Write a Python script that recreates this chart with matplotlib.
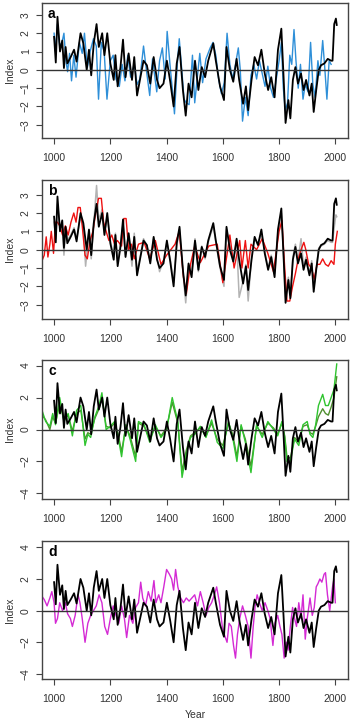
import matplotlib
matplotlib.use("Agg")
import matplotlib.pyplot as plt
import numpy as np

plt.rcParams['font.family'] = ['Liberation Sans', 'DejaVu Sans']

# ---- black reference series (shown in every panel) ----
blk_years = [1000,1006,1012,1021,1029,1035,1041,1047,1059,1071,1080,1094,1104,1116,1124,1132,
             1141,1151,1159,1171,1179,1189,1200,1212,1218,1226,1236,1245,1254,1265,1277,1285,
             1295,1307,1318,1330,1342,1354,1366,1375,1389,1401,1413,1425,1436,1446,1458,1468,
             1478,1489,1501,1513,1525,1537,1548,1566,1575,1590,1604,1613,1625,1637,1649,1658,
             1672,1682,1690,1702,1713,1725,1737,1749,1761,1772,1784,1796,1808,1816,1823,1833,
             1840,1849,1858,1867,1878,1887,1896,1908,1916,1923,1932,1941,1949,1961,1973,1985,
             1990,1996,2002,2005]
blk_vals = [1.8,0.4,2.9,1.0,1.6,0.1,1.25,0.35,0.7,1.1,0.45,2.0,1.45,0.0,1.1,-0.3,
            1.45,2.5,1.25,2.0,0.8,2.0,0.35,-0.55,0.8,-0.9,0.15,1.65,-0.4,0.9,-0.55,0.7,
            -1.4,-0.4,0.5,0.25,-0.75,0.7,-0.55,-1.0,-0.75,0.5,-0.65,-2.0,0.35,1.25,-1.1,-2.5,
            -0.75,-1.5,0.5,-1.1,0.15,-0.4,0.5,1.45,0.5,-0.9,-1.65,1.25,0.0,-0.65,0.6,-0.55,
            -1.85,-0.9,-2.2,-0.55,0.7,0.25,1.1,-0.2,-1.1,-0.4,-1.5,1.1,2.25,-0.4,-2.9,-1.65,
            -2.65,-0.55,0.15,-0.75,-0.2,-1.1,-0.55,-1.4,-0.75,-2.3,-1.1,0.0,0.25,0.35,0.6,0.5,
            0.5,2.5,2.8,2.45]

# ---- panel a: blue ----
blue_years = [1000,1005,1012,1020,1028,1035,1042,1048,1055,1062,1070,1078,1090,1100,1108,1118,
              1128,1140,1150,1158,1168,1178,1188,1200,1210,1220,1232,1242,1252,1262,1272,1285,
              1295,1305,1318,1328,1340,1350,1365,1375,1385,1395,1402,1412,1420,1428,1438,1445,
              1455,1462,1470,1480,1492,1500,1510,1518,1528,1540,1555,1565,1575,1585,1595,1605,
              1615,1625,1635,1645,1655,1662,1670,1680,1690,1700,1710,1720,1730,1740,1750,1760,
              1770,1780,1790,1800,1808,1815,1822,1830,1838,1845,1853,1860,1868,1876,1885,1893,
              1903,1912,1920,1928,1938,1945,1955,1962,1970,1978,1985]
blue_vals = [2.0,1.0,2.5,1.3,1.5,2.0,0.5,-0.1,0.9,-0.6,0.8,-0.4,1.5,0.9,2.0,0.1,
             1.0,1.7,1.3,-1.6,1.5,1.0,-1.6,0.5,0.8,-0.5,-0.9,0.3,-0.6,0.8,-0.4,0.3,
             -0.8,-0.5,1.3,0.0,-1.4,0.6,-1.2,0.5,1.2,-0.5,2.1,0.3,-1.0,-2.4,0.3,1.7,
             -0.2,-1.6,-1.8,-1.9,0.8,-1.8,-0.3,0.9,-0.7,0.6,1.2,1.5,0.8,-0.5,-1.3,-0.7,
             2.0,0.3,-0.5,0.3,1.2,0.0,-2.8,-1.5,-2.5,-0.3,0.3,-0.5,0.5,-0.2,-0.9,0.2,
             -1.0,-1.5,-0.5,0.5,1.5,-1.0,-2.2,-1.8,0.8,0.3,2.2,0.5,-1.0,0.3,-1.6,-0.8,
             -1.2,1.5,-0.8,-1.5,0.5,-0.3,1.6,0.2,-1.6,0.5,0.3]

# ---- panel b: red and grey ----
red_years = [957,965,972,978,985,990,998,1005,1012,1020,1030,1040,1050,1060,1070,1078,1085,1093,
             1100,1110,1118,1128,1138,1148,1158,1168,1176,1185,1195,1205,1215,1225,1240,1248,1256,
             1265,1275,1285,1300,1320,1340,1360,1380,1400,1430,1445,1460,1470,1485,1500,1520,1550,
             1580,1600,1625,1640,1660,1668,1680,1690,1700,1720,1740,1760,1780,1800,1810,1820,1828,
             1838,1848,1858,1868,1878,1888,1895,1905,1915,1925,1935,1945,1955,1965,1975,1985,1995,
             2000,2007]
red_vals = [-0.6,-0.3,0.7,-0.4,0.3,1.0,-0.2,1.5,1.5,1.3,0.8,1.3,0.8,1.5,2.0,1.5,2.3,2.3,
            1.3,-0.3,-0.5,0.5,1.0,2.0,2.8,2.8,1.5,1.0,0.5,0.8,0.3,0.5,0.2,1.7,1.7,
            0.0,0.3,-0.5,0.3,0.4,-0.5,0.5,-0.8,-0.3,0.3,1.0,-1.5,-2.4,-0.8,0.2,-0.7,0.2,
            0.3,-1.8,0.8,-1.0,0.5,-1.0,0.5,-1.0,0.3,0.0,0.6,-0.2,-1.2,1.0,1.6,-1.0,-2.8,
            -2.8,-2.0,-1.3,-0.5,0.0,0.4,0.0,-0.8,-1.0,-1.6,-0.8,-0.8,-0.5,-0.8,-0.9,-0.6,-0.8,
            0.3,1.0]

grey_years = [1000,1006,1012,1021,1029,1035,1041,1047,1059,1071,1080,1094,1104,1112,1124,1132,
              1141,1151,1159,1171,1179,1189,1200,1212,1218,1226,1236,1245,1254,1265,1277,1285,
              1295,1307,1318,1330,1342,1354,1366,1375,1389,1401,1413,1425,1436,1446,1458,1468,
              1478,1489,1501,1513,1525,1537,1548,1566,1575,1590,1604,1613,1625,1637,1649,1658,
              1672,1682,1690,1702,1713,1725,1737,1749,1761,1772,1784,1796,1808,1816,1823,1833,
              1840,1849,1858,1867,1878,1887,1896,1908,1916,1923,1932,1941,1949,1961,1973,1985,
              1990,1996,2002,2005]
grey_vals = [1.5,0.6,2.5,1.2,1.4,-0.3,1.2,0.5,0.8,1.2,0.6,1.8,1.2,-0.9,1.0,-0.5,
             1.4,3.5,1.6,2.2,0.9,1.8,0.5,-0.4,0.9,-0.7,0.3,1.4,-0.3,0.8,-0.9,0.9,
             -1.2,-0.3,0.6,0.2,-0.6,0.6,-0.4,-1.2,-0.6,0.4,-0.5,-1.8,0.2,1.1,-1.2,-2.9,
             -0.9,-1.3,0.6,-1.2,0.2,-0.5,0.4,1.3,0.4,-1.0,-2.0,1.1,0.2,-0.6,0.5,-2.6,
             -1.7,-0.8,-2.8,-0.4,0.6,0.3,0.9,-0.1,-1.0,-0.3,-1.3,0.9,2.0,-0.3,-2.6,-1.5,
             -2.5,-0.4,0.3,-0.6,0.6,-0.9,-0.4,-1.3,-0.6,-2.1,-1.0,0.1,0.2,0.3,0.5,0.4,
             0.4,1.2,1.9,1.8]

# ---- panel c: green and dark green ----
grn_years = [957,970,985,995,1005,1020,1035,1050,1065,1080,1095,1110,1120,1130,1145,1160,1170,
             1185,1200,1215,1228,1240,1255,1270,1290,1300,1320,1340,1360,1380,1400,1420,1440,
             1455,1470,1485,1500,1520,1540,1560,1580,1600,1620,1635,1650,1665,1680,1700,1720,
             1740,1760,1780,1795,1810,1820,1828,1840,1855,1870,1885,1900,1910,1920,1930,1940,
             1955,1965,1975,1985,1995,2005]
grn_vals = [1.2,0.5,0.2,1.0,0.3,2.0,0.5,1.0,-0.4,1.2,1.5,-1.0,-0.3,-0.5,0.8,1.5,2.3,
            0.0,0.2,0.5,-0.5,-1.7,0.3,-0.6,-2.0,0.5,0.3,-0.8,0.3,-0.5,0.0,2.0,0.5,
            -3.0,-1.5,-0.5,-0.3,0.2,-0.5,0.6,-0.8,-1.2,0.5,-0.5,-2.0,0.3,-0.8,-2.7,0.3,
            -0.5,0.5,0.0,-0.4,0.5,-0.5,-2.0,-2.0,-0.6,-1.0,0.3,0.5,-0.3,-0.5,0.3,1.5,
            2.2,1.5,1.5,2.0,2.5,4.1]

dgrn_years = [957,970,985,995,1005,1020,1035,1050,1065,1080,1095,1110,1120,1130,1145,1160,1170,
              1185,1200,1215,1228,1240,1255,1270,1290,1300,1320,1340,1360,1380,1400,1420,1440,
              1455,1470,1485,1500,1520,1540,1560,1580,1600,1620,1635,1650,1665,1680,1700,1720,
              1740,1760,1780,1795,1810,1820,1828,1840,1855,1870,1885,1900,1910,1920,1930,1940,
              1955,1965,1975,1985,1995,2005]
dgrn_vals = [0.9,0.6,0.0,0.8,0.4,1.6,0.6,0.9,-0.1,1.0,1.2,-0.6,-0.2,-0.3,0.7,1.3,2.0,
             0.2,0.1,0.4,-0.3,-1.4,0.2,-0.4,-1.7,0.4,0.2,-0.6,0.2,-0.4,0.1,1.7,0.4,
             -2.6,-1.3,-0.4,-0.2,0.1,-0.4,0.4,-0.6,-1.0,0.4,-0.3,-1.7,0.2,-0.6,-2.3,0.2,
             -0.3,0.4,0.1,-0.3,0.4,-0.4,-1.7,-1.8,-0.5,-0.8,0.2,0.3,-0.2,-0.3,0.2,0.8,
             1.3,1.0,0.9,1.4,2.0,3.3]

# ---- panel d: magenta ----
mag_years = [957,965,975,985,992,1000,1005,1012,1020,1030,1040,1048,1058,1065,1075,1085,1092,
             1100,1110,1120,1130,1140,1150,1160,1170,1180,1190,1200,1210,1220,1230,1240,1250,
             1258,1268,1280,1290,1300,1308,1315,1325,1335,1345,1355,1362,1372,1380,1390,1400,
             1410,1418,1425,1432,1440,1450,1460,1470,1480,1490,1500,1510,1520,1530,1540,1550,
             1560,1570,1578,1588,1598,1605,1615,1622,1630,1638,1645,1652,1660,1670,1680,1690,
             1700,1708,1715,1722,1730,1740,1750,1760,1768,1778,1785,1795,1803,1810,1818,1826,
             1832,1840,1848,1855,1862,1870,1878,1885,1893,1900,1910,1918,1925,1932,1938,1945,
             1952,1960,1965,1972,1980,1990,1995,2000]
mag_vals = [0.9,0.7,0.3,0.8,1.2,0.5,-0.8,-0.5,0.5,0.0,0.5,-0.2,-0.5,-1.0,-0.3,1.0,0.5,
            -0.5,-2.0,-0.8,-0.3,0.0,0.3,1.0,0.5,-1.0,-1.5,-0.5,0.3,-0.3,-0.8,0.3,-0.5,
            -1.7,-0.3,-0.8,0.2,0.5,1.8,0.8,0.3,1.2,0.6,1.9,0.5,1.0,0.5,1.5,2.6,
            2.3,2.0,1.3,2.6,1.5,0.8,0.5,0.8,0.6,0.8,1.0,0.3,1.2,0.5,-0.3,0.2,
            0.5,1.0,1.5,0.5,-1.0,-1.5,-2.0,-0.8,-1.0,-2.2,-3.0,-1.5,-0.5,0.3,-0.3,-1.0,
            -3.0,-1.0,0.3,1.0,0.5,0.0,0.5,0.0,-0.5,-2.2,-0.8,-0.3,-1.0,-1.5,-3.0,-2.0,
            -2.5,-1.0,0.2,-0.5,-1.0,0.5,-0.5,1.0,-1.8,-0.5,0.8,-0.3,0.2,1.5,1.7,2.0,
            1.8,2.3,2.4,1.0,0.0,1.5,2.0,0.5]

x_ticks = [1000, 1200, 1400, 1600, 1800, 2000]
panel_labels = ['a', 'b', 'c', 'd']

W, H = 352, 723
fig = plt.figure(figsize=(W/100, H/100), dpi=100)

# axes boxes in pixels: (top, bottom)
boxes = [(3, 138), (180, 319), (360, 499), (541, 679)]
left_px, right_px = 42, 348
ylims = [(-3.72, 3.65), (-3.78, 3.8), (-4.35, 4.35), (-4.32, 4.4)]
yticks = [[-3, -2, -1, 0, 1, 2, 3], [-3, -2, -1, 0, 1, 2, 3],
          [-4, -2, 0, 2, 4], [-4, -2, 0, 2, 4]]

series = [
    [(blue_years, blue_vals, '#2e8fd8', 1.0)],
    [(grey_years, grey_vals, '#b3b3b3', 1.1), (red_years, red_vals, '#ee1111', 1.0)],
    [(dgrn_years, dgrn_vals, '#4f8f2f', 1.0), (grn_years, grn_vals, '#2fc42f', 1.0)],
    [(mag_years, mag_vals, '#d42ad4', 1.0)],
]

for i, (top, bot) in enumerate(boxes):
    ax = fig.add_axes([left_px / W, 1 - bot / H, (right_px - left_px) / W, (bot - top) / H])
    for yrs, vals, col, lw in series[i]:
        ax.plot(yrs, vals, color=col, lw=lw, zorder=2)
    ax.plot(blk_years, blk_vals, color='black', lw=1.3, zorder=3)
    ax.axhline(0, color='#333333', lw=1.0, zorder=4)
    ax.set_xlim(957, 2045)
    ax.set_ylim(*ylims[i])
    ax.set_xticks(x_ticks)
    ax.set_yticks(yticks[i])
    ax.set_yticklabels([str(t).replace('-', '\u2212') for t in yticks[i]], rotation=90, va='center')
    ax.tick_params(axis='both', labelsize=7.5, length=4, width=0.8, color='#444444',
                   labelcolor='#333333')
    ax.tick_params(axis='x', pad=7)
    ax.tick_params(axis='y', pad=4)
    for s in ax.spines.values():
        s.set_color('#444444')
        s.set_linewidth(1.0)
    ax.set_ylabel('Index', fontsize=7.5, color='#333333', labelpad=4)
    ax.text(0.02, 0.97, panel_labels[i], transform=ax.transAxes, fontsize=10,
            fontweight='bold', va='top', ha='left')
    if i == 3:
        ax.set_xlabel('Year', fontsize=7.5, color='#333333', labelpad=4)

fig.savefig('out.png', dpi=100)
